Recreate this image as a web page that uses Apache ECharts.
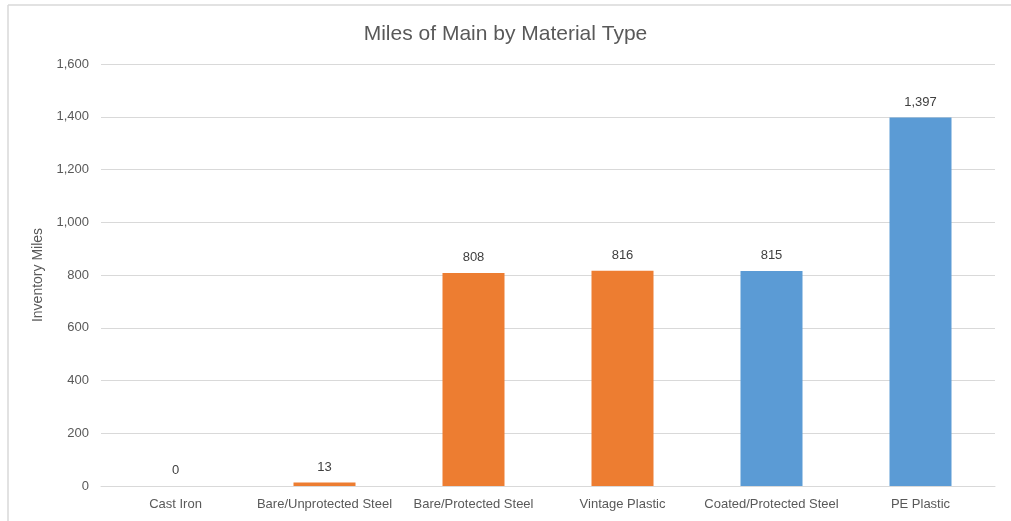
<!DOCTYPE html>
<html>
<head>
<meta charset="utf-8">
<style>
  html, body { margin: 0; padding: 0; background: #fff; }
  #chart { width: 1011px; height: 521px; }
</style>
<script src="https://cdn.jsdelivr.net/npm/echarts@6/dist/echarts.min.js"></script>
</head>
<body>
<div id="chart"></div>
<script>
// 数据
var categories = ['Cast Iron', 'Bare/Unprotected Steel', 'Bare/Protected Steel', 'Vintage Plastic', 'Coated/Protected Steel', 'PE Plastic'];
var miles = [0, 13, 808, 816, 815, 1397];
var yTicks = [0, 200, 400, 600, 800, 1000, 1200, 1400, 1600];

var ORANGE = '#ED7D31', BLUE = '#5B9BD5';
var FONT = '"Liberation Sans Narrow", "Liberation Sans", sans-serif';
var myChart = echarts.init(document.getElementById('chart'));

var option = {
    backgroundColor: '#fff',
    textStyle: { fontFamily: FONT },
    title: {
        text: 'Miles of Main by Material Type',
        left: 'center',
        top: 19,
        textStyle: { fontFamily: FONT, fontSize: 21, fontWeight: 'normal', color: '#595959' }
    },
    // 外框
    graphic: [
        { type: 'line', shape: { x1: 8, y1: 5, x2: 8, y2: 521 }, style: { stroke: '#d9d9d9', lineWidth: 1.5 } },
        { type: 'line', shape: { x1: 8, y1: 5, x2: 1011, y2: 5 }, style: { stroke: '#d9d9d9', lineWidth: 1.5 } }
    ],
    grid: { left: 101, right: 16, top: 64, bottom: 35 },
    xAxis: {
        type: 'category',
        data: categories,
        axisTick: { show: false },
        axisLine: { lineStyle: { color: '#d9d9d9' } },
        axisLabel: { color: '#595959', fontSize: 13, margin: 12, interval: 0 }
    },
    yAxis: {
        type: 'value',
        min: yTicks[0],
        max: yTicks[yTicks.length - 1],
        interval: 200,
        name: 'Inventory Miles',
        nameLocation: 'middle',
        nameGap: 54,
        nameTextStyle: { color: '#595959', fontSize: 14, fontFamily: FONT },
        axisLine: { show: false },
        axisTick: { show: false },
        splitLine: { lineStyle: { color: '#d9d9d9' } },
        axisLabel: {
            color: '#595959', fontSize: 13, margin: 12,
            formatter: function (v) { return v.toLocaleString('en-US'); }
        }
    },
    series: [{
        type: 'bar',
        data: miles,
        barWidth: 62,
        itemStyle: {
            color: function (p) { return p.dataIndex < 4 ? ORANGE : BLUE; }
        },
        label: {
            show: true,
            position: 'top',
            distance: 9,
            color: '#404040',
            fontSize: 13,
            fontFamily: FONT,
            formatter: function (p) { return p.value.toLocaleString('en-US'); }
        }
    }]
};
myChart.setOption(option);
window.onresize = myChart.resize;
</script>
</body>
</html>
